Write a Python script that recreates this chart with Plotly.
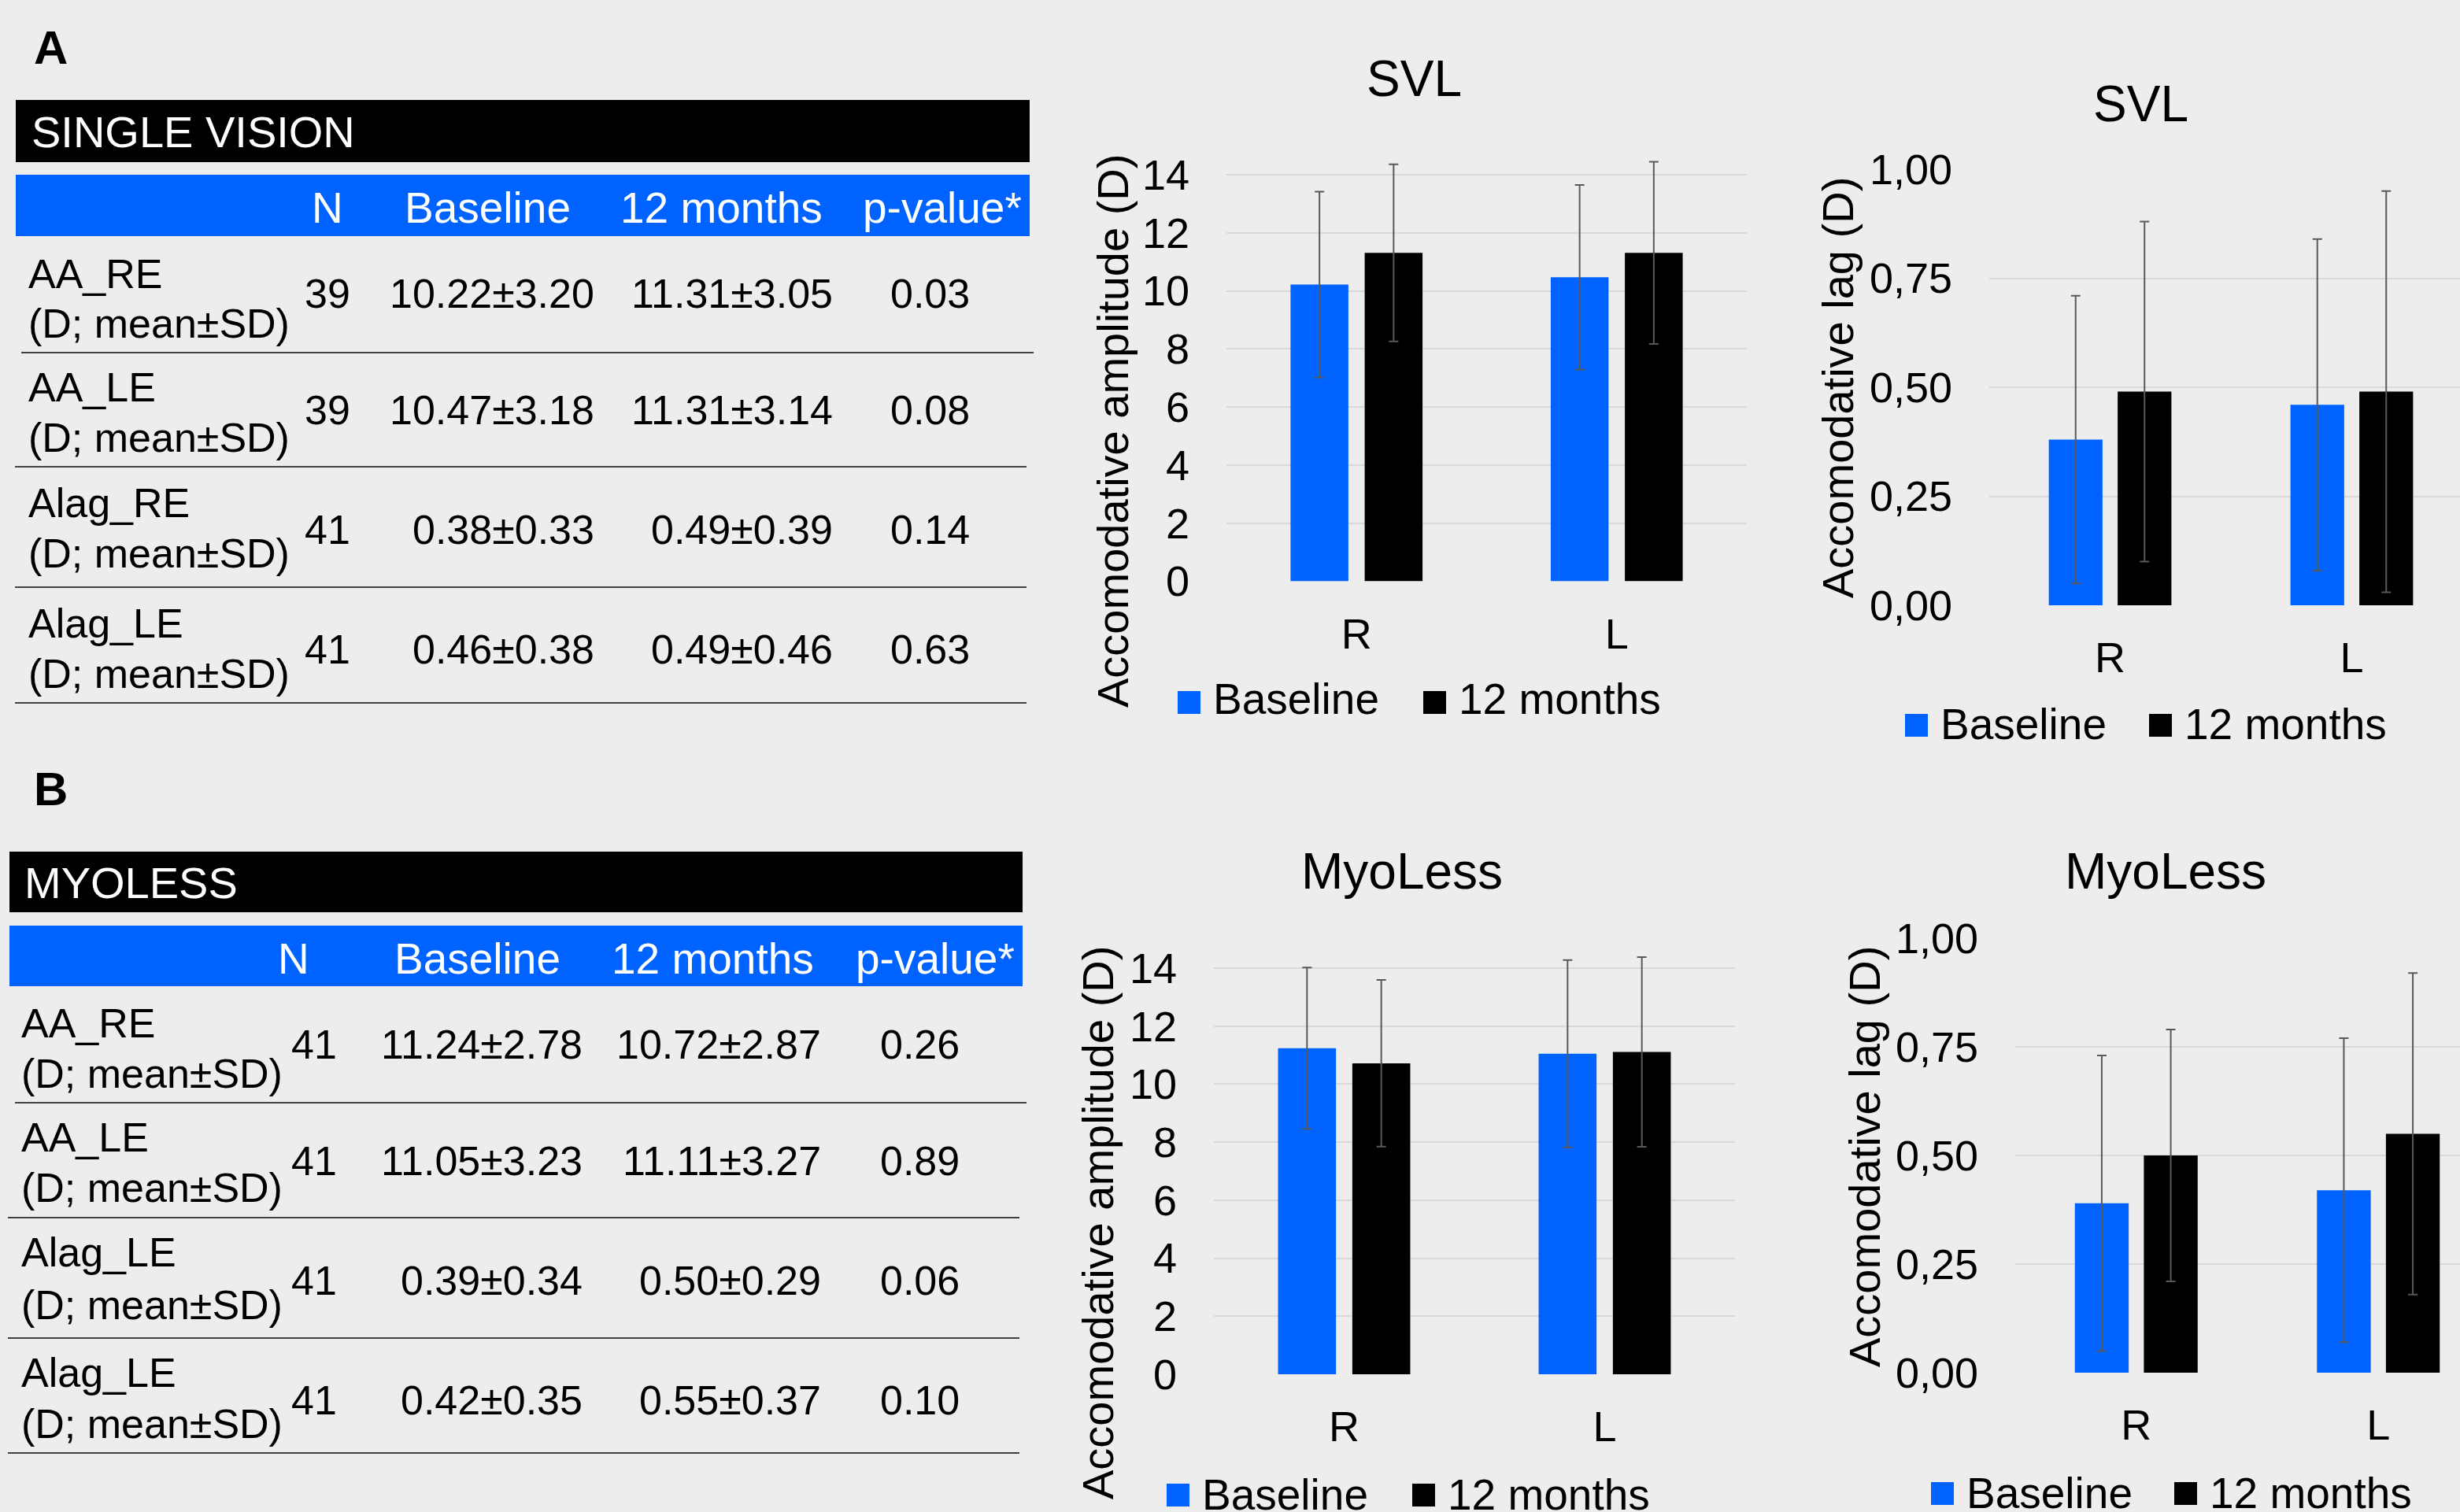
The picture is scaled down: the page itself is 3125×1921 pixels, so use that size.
import plotly.graph_objects as go

W, H = 3125, 1921

# ---------------- data ----------------
eyes = ["R", "L"]
series_names = ["Baseline", "12 months"]
table_headers = ["N", "Baseline", "12 months", "p-value*"]
unit_label = "(D; mean±SD)"

sv_title = "SINGLE VISION"
sv_measures = ["AA_RE", "AA_LE", "Alag_RE", "Alag_LE"]
sv_n = [39, 39, 41, 41]
sv_base_mean = [10.22, 10.47, 0.38, 0.46]
sv_base_sd = [3.20, 3.18, 0.33, 0.38]
sv_12m_mean = [11.31, 11.31, 0.49, 0.49]
sv_12m_sd = [3.05, 3.14, 0.39, 0.46]
sv_p = [0.03, 0.08, 0.14, 0.63]

ml_title = "MYOLESS"
ml_measures = ["AA_RE", "AA_LE", "Alag_LE", "Alag_LE"]
ml_n = [41, 41, 41, 41]
ml_base_mean = [11.24, 11.05, 0.39, 0.42]
ml_base_sd = [2.78, 3.23, 0.34, 0.35]
ml_12m_mean = [10.72, 11.11, 0.50, 0.55]
ml_12m_sd = [2.87, 3.27, 0.29, 0.37]
ml_p = [0.26, 0.89, 0.06, 0.10]

amp_ticks = [0, 2, 4, 6, 8, 10, 12, 14]
lag_ticks = [0, 0.25, 0.50, 0.75, 1.00]

# ---------------- style ----------------
BLUE = "#0063FF"
BLACK = "#000000"
BG = "#EDEDED"
GRID = "#D9D9D9"
ERR = "#595959"
FONT = "Liberation Sans, Arial, sans-serif"


def X(px):
    return px / W


def Y(py):
    return 1 - py / H


fig = go.Figure()
annotations = []
shapes = []


def ann(text, px, py, size, xanchor="left", yanchor="middle", color="#000000",
        angle=0, bold=False):
    if bold:
        text = "<b>" + text + "</b>"
    annotations.append(dict(
        text=text, x=X(px), y=Y(py), xref="paper", yref="paper",
        xanchor=xanchor, yanchor=yanchor, showarrow=False, textangle=angle,
        font=dict(family=FONT, size=size, color=color)))


def rect(x0, y0, x1, y1, color):
    shapes.append(dict(type="rect", xref="paper", yref="paper",
                       x0=X(x0), x1=X(x1), y0=Y(y1), y1=Y(y0),
                       fillcolor=color, line=dict(width=0), layer="below"))


def hline(x0, x1, py, color="#404040", w=2):
    shapes.append(dict(type="line", xref="paper", yref="paper",
                       x0=X(x0), x1=X(x1), y0=Y(py), y1=Y(py),
                       line=dict(color=color, width=w)))


# ---------------- tables ----------------
def draw_table(letter, letter_y, title, measures, n, bm, bsd, fm, fsd, p, geo):
    ann(letter, 41, letter_y, 60, bold=True)
    rect(geo["x0"], geo["black"][0], geo["x1"], geo["black"][1], BLACK)
    ann(title, geo["title_x"], (geo["black"][0] + geo["black"][1]) / 2 + 1, 56,
        color="#FFFFFF")
    rect(geo["x0"], geo["blue"][0], geo["x1"], geo["blue"][1], BLUE)
    for h, cx in zip(table_headers, geo["head_x"]):
        ann(h, cx, geo["head_y"], 55, xanchor="center", color="#FFFFFF")
    for i in range(len(measures)):
        l1, l2, ny = geo["rows"][i]
        ann(measures[i], geo["label_x"], l1, 52)
        ann(unit_label, geo["label_x"], l2, 52)
        vals = [str(n[i]),
                f"{bm[i]:.2f}±{bsd[i]:.2f}",
                f"{fm[i]:.2f}±{fsd[i]:.2f}",
                f"{p[i]:.2f}"]
        for v, rx in zip(vals, geo["val_right"]):
            ann(v, rx, ny, 52, xanchor="right")
    for (sx0, sx1, sy) in geo["seps"]:
        hline(sx0, sx1, sy)


geoA = dict(x0=20, x1=1308, black=(127, 206), blue=(222, 300), title_x=38,
            head_x=[416, 619, 917, 1197], head_y=264,
            label_x=34,
            rows=[(348, 411, 373), (492, 556, 521), (639, 703, 673), (792, 856, 825)],
            val_right=[447, 757, 1060, 1234],
            seps=[(27, 1313, 448), (19, 1304, 593), (19, 1304, 746), (19, 1304, 893)])
draw_table("A", 61, sv_title, sv_measures, sv_n, sv_base_mean, sv_base_sd,
           sv_12m_mean, sv_12m_sd, sv_p, geoA)

geoB = dict(x0=12, x1=1299, black=(1082, 1159), blue=(1176, 1253), title_x=29,
            head_x=[373, 606, 905, 1188], head_y=1218,
            label_x=25,
            rows=[(1300, 1364, 1327), (1445, 1509, 1475), (1591, 1658, 1627), (1744, 1809, 1779)],
            val_right=[430, 742, 1045, 1221],
            seps=[(19, 1304, 1401), (10, 1295, 1547), (10, 1295, 1700), (10, 1295, 1846)])
draw_table("B", 1002, ml_title, ml_measures, ml_n, ml_base_mean, ml_base_sd,
           ml_12m_mean, ml_12m_sd, ml_p, geoB)

# ---------------- charts ----------------
panels = [
    ("", sv_base_mean[0:2], sv_base_sd[0:2], sv_12m_mean[0:2], sv_12m_sd[0:2]),
    ("2", sv_base_mean[2:4], sv_base_sd[2:4], sv_12m_mean[2:4], sv_12m_sd[2:4]),
    ("3", ml_base_mean[0:2], ml_base_sd[0:2], ml_12m_mean[0:2], ml_12m_sd[0:2]),
    ("4", ml_base_mean[2:4], ml_base_sd[2:4], ml_12m_mean[2:4], ml_12m_sd[2:4]),
]
for suf, bm, bsd, fm, fsd in panels:
    for name, m, sd, col in [(series_names[0], bm, bsd, BLUE), (series_names[1], fm, fsd, BLACK)]:
        fig.add_trace(go.Bar(
            x=eyes, y=m, name=name, marker=dict(color=col, line=dict(width=0)),
            error_y=dict(type="data", array=sd, visible=True, color=ERR,
                         thickness=2, width=6),
            xaxis="x" + suf, yaxis="y" + suf, showlegend=False))

amp_top = 14.6


def amp_dom(y0px, y14px):
    per = (y0px - y14px) / 14
    top = y0px - amp_top * per
    return [Y(y0px), Y(top)]


tickfont = dict(family=FONT, size=54, color="#000000")


def xax(dom, rng, anchor):
    return dict(domain=dom, range=rng, type="category", anchor=anchor,
                showgrid=False, zeroline=False, showline=False, ticks="",
                tickfont=tickfont, ticklabelstandoff=30, fixedrange=True,
                automargin=False)


def yax(dom, rng, tv, fmt, anchor):
    return dict(domain=dom, range=rng, anchor=anchor, tickvals=tv,
                tickformat=fmt, showgrid=True, gridcolor=GRID, gridwidth=2,
                zeroline=False, showline=False, ticks="", tickfont=tickfont,
                ticklabelstandoff=46, fixedrange=True, automargin=False)


a2_right = 1.5 - (2527 + 2 * 307 - W) / 307
b2_right = 1.5 - (2560 + 2 * 307.5 - W) / 307.5

layout_axes = dict(
    xaxis=xax([X(1558), X(2219)], [-0.5, 1.5], "y"),
    yaxis=yax(amp_dom(738.5, 222), [0, amp_top], amp_ticks, "d", "x"),
    xaxis2=xax([X(2527), 1.0], [-0.5, a2_right], "y2"),
    yaxis2=yax([Y(769), Y(215)], [0, 1], lag_ticks, ".2f", "x2"),
    xaxis3=xax([X(1542), X(2204)], [-0.5, 1.5], "y3"),
    yaxis3=yax(amp_dom(1746, 1230), [0, amp_top], amp_ticks, "d", "x3"),
    xaxis4=xax([X(2560), 1.0], [-0.5, b2_right], "y4"),
    yaxis4=yax([Y(1744), Y(1192)], [0, 1], lag_ticks, ".2f", "x4"),
)

# chart titles
ann("SVL", 1796, 100, 64, xanchor="center")
ann("SVL", 2719, 132, 64, xanchor="center")
ann("MyoLess", 1781, 1107, 64, xanchor="center")
ann("MyoLess", 2751, 1107, 64, xanchor="center")

# axis titles
ann("Accomodative amplitude (D)", 1413, 548, 56, xanchor="center", angle=-90)
ann("Accomodative lag (D)", 2335, 493, 56, xanchor="center", angle=-90)
ann("Accomodative amplitude (D)", 1394, 1554, 56, xanchor="center", angle=-90)
ann("Accomodative lag (D)", 2368, 1470, 56, xanchor="center", angle=-90)

# legends (square + label)
legend_pos = [
    (1496, 1808, 878, 907, 888),
    (2420, 2730, 907, 936, 920),
    (1482, 1794, 1885, 1914, 1899),
    (2453, 2762, 1883, 1912, 1897),
]
for bx, kx, sy0, sy1, ty in legend_pos:
    for sx, col, name in [(bx, BLUE, series_names[0]), (kx, BLACK, series_names[1])]:
        rect(sx, sy0, sx + 29, sy1, col)
        ann(name, sx + 43, ty, 55)

fig.update_layout(
    template="none",
    width=W, height=H,
    margin=dict(l=0, r=0, t=0, b=0, pad=0, autoexpand=False),
    paper_bgcolor=BG, plot_bgcolor=BG,
    barmode="group", bargap=0.43, bargroupgap=0.22,
    separators=",.",
    showlegend=False,
    font=dict(family=FONT, color="#000000"),
    annotations=annotations, shapes=shapes,
    **layout_axes,
)

fig.write_html("out.html", config={"responsive": False, "displayModeBar": False},
               post_script="document.body.style.margin='0';document.body.style.overflow='hidden';")
